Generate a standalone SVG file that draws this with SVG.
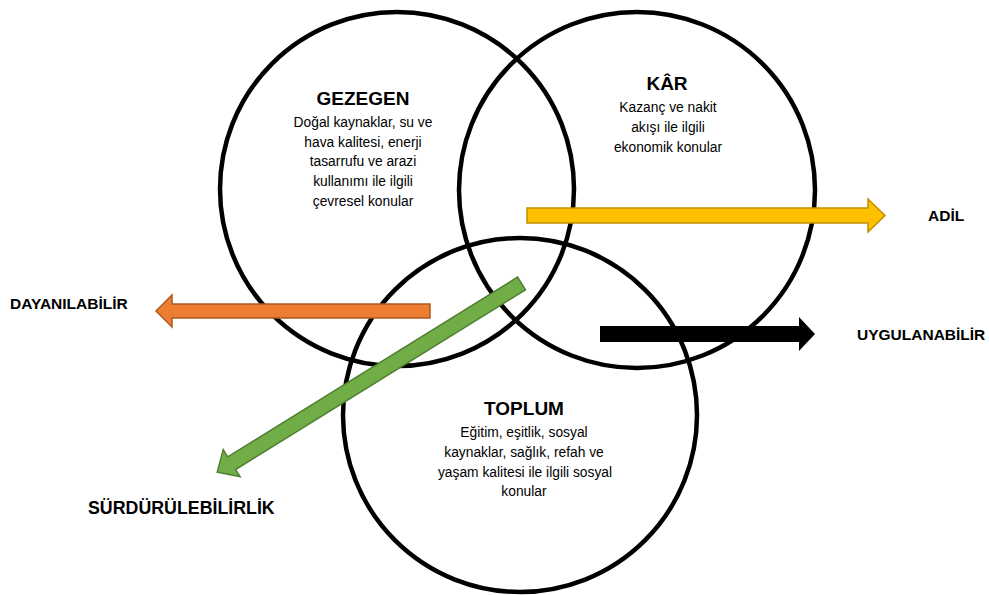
<svg xmlns="http://www.w3.org/2000/svg" width="989" height="595" viewBox="0 0 989 595">
  <style>
    .ring { fill: none; stroke: #000; stroke-width: 4.5; }
    .title { font-family: "Liberation Sans", Arial, sans-serif; font-weight: bold; font-size: 19px; fill: #000; text-anchor: middle; }
    .body { font-family: "Liberation Sans", Arial, sans-serif; font-size: 13.8px; fill: #000; text-anchor: middle; }
    .label { font-family: "Liberation Sans", Arial, sans-serif; font-weight: bold; font-size: 15.5px; fill: #000; }
    .arrow { stroke-width: 1.5; stroke-linejoin: miter; }
  </style>
  <rect width="989" height="595" fill="#fff"/>

  <!-- the three overlapping circles -->
  <g id="gezegen">
    <circle class="ring" cx="397" cy="189" r="177"/>
  </g>
  <g id="kar">
    <circle class="ring" cx="637" cy="190" r="178"/>
  </g>
  <g id="toplum">
    <circle class="ring" cx="520" cy="415" r="177"/>
  </g>

  <!-- direction arrows -->
  <g id="connectors">
    <path id="arrow-adil" class="arrow" fill="#FFC000" stroke="#BF9000" d="M527,208 H868 V199 L885,215.5 L868,232 V223 H527 Z"/>
    <path id="arrow-dayanilabilir" class="arrow" fill="#ED7D31" stroke="#AE5A21" d="M430,304 H172 V295 L156,311 L172,327 V318 H430 Z"/>
    <path id="arrow-uygulanabilir" fill="#000" d="M600,326 H799 V317 L815,334 L799,351 V342 H600 Z"/>
    <path id="arrow-surdurulebilirlik" class="arrow" fill="#70AD47" stroke="#507E32" transform="translate(521.5,283.5) rotate(148.2)" d="M0,-7.5 H341 V-16 L358,0 L341,16 V7.5 H0 Z"/>
  </g>

  <!-- circle texts -->
  <g id="gezegen-text">
    <text class="title" x="363" y="105">GEZEGEN</text>
    <text class="body" x="363" y="127">Doğal kaynaklar, su ve</text>
    <text class="body" x="363" y="146.5">hava kalitesi, enerji</text>
    <text class="body" x="363" y="166">tasarrufu ve arazi</text>
    <text class="body" x="363" y="186">kullanımı ile ilgili</text>
    <text class="body" x="363" y="206">çevresel konular</text>
  </g>
  <g id="kar-text">
    <text class="title" x="667" y="90">KÂR</text>
    <text class="body" x="668" y="112">Kazanç ve nakit</text>
    <text class="body" x="668" y="132">akışı ile ilgili</text>
    <text class="body" x="668" y="152">ekonomik konular</text>
  </g>
  <g id="toplum-text">
    <text class="title" x="524" y="415">TOPLUM</text>
    <text class="body" x="524" y="437">Eğitim, eşitlik, sosyal</text>
    <text class="body" x="524" y="457">kaynaklar, sağlık, refah ve</text>
    <text class="body" x="525" y="476.5">yaşam kalitesi ile ilgili sosyal</text>
    <text class="body" x="524" y="496">konular</text>
  </g>

  <!-- arrow labels -->
  <g id="labels">
    <text class="label" x="928" y="221">ADİL</text>
    <text class="label" x="10" y="309">DAYANILABİLİR</text>
    <text class="label" x="857" y="340">UYGULANABİLİR</text>
    <text class="label" x="88" y="514" style="font-size:17.8px">SÜRDÜRÜLEBİLİRLİK</text>
  </g>
</svg>
